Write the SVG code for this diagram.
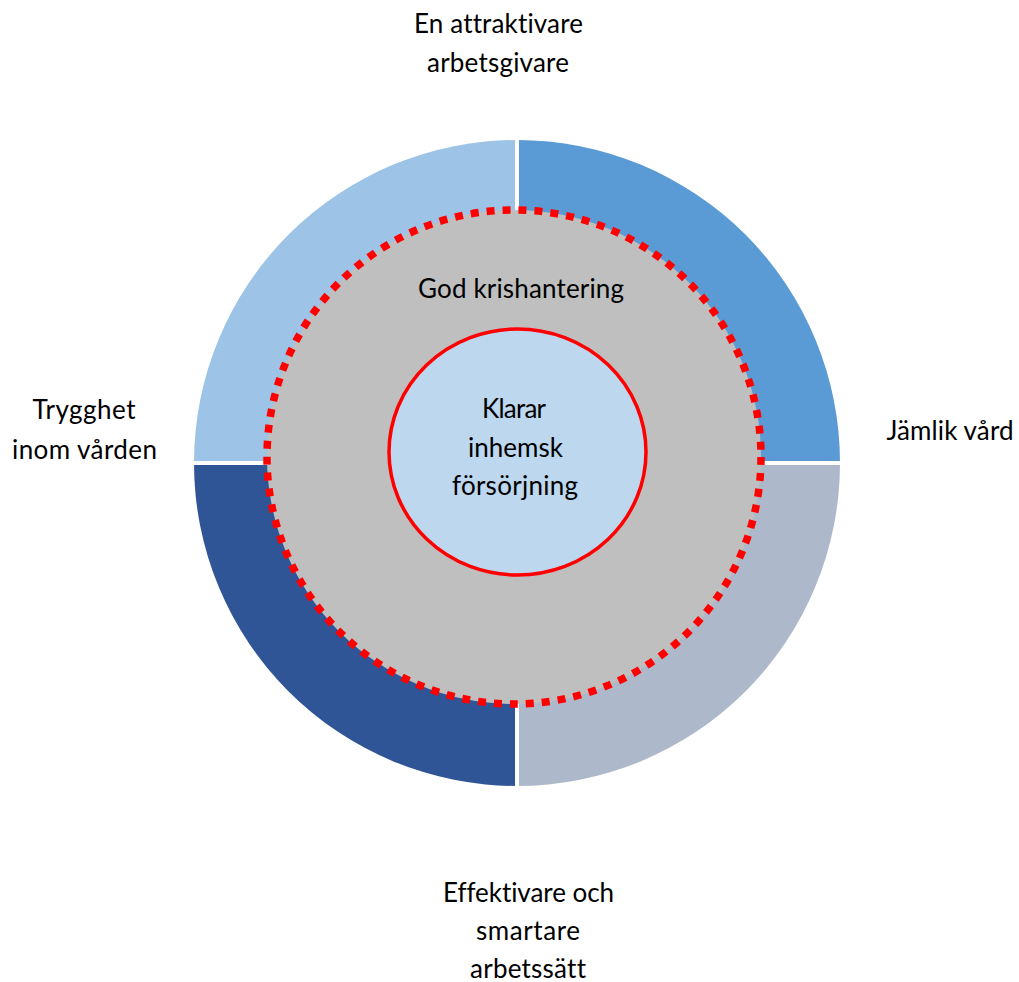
<svg xmlns="http://www.w3.org/2000/svg" width="1019" height="982" viewBox="0 0 1019 982">
  <style>
    .lbl { font-family: Lato, "Open Sans", "Liberation Sans", sans-serif; font-size: 26px; fill: #000; text-anchor: middle; font-variant-ligatures: none; }
    .sep { stroke: #FFFFFF; stroke-width: 4; }
  </style>
  <rect width="1019" height="982" fill="#FFFFFF"/>
  <g id="ring">
    <g id="q-top-right"><path d="M517,463 L517,140 A323,323 0 0 1 840,463 Z" fill="#5B9BD5"/></g>
    <g id="q-bottom-right"><path d="M517,463 L840,463 A323,323 0 0 1 517,786 Z" fill="#ADB9CA"/></g>
    <g id="q-bottom-left"><path d="M517,463 L517,786 A323,323 0 0 1 194,463 Z" fill="#2F5597"/></g>
    <g id="q-top-left"><path d="M517,463 L194,463 A323,323 0 0 1 517,140 Z" fill="#9DC3E6"/></g>
    <line class="sep" x1="517" y1="130" x2="517" y2="796"/>
    <line class="sep" x1="184" y1="463" x2="850" y2="463"/>
  </g>
  <g id="krishantering">
    <circle cx="514" cy="457" r="247" fill="#BFBFBF" stroke="#FF0000" stroke-width="7.5" stroke-dasharray="8 8"/>
    <text class="lbl" x="521" y="298" textLength="206">God krishantering</text>
  </g>
  <g id="inhemsk">
    <ellipse cx="517.5" cy="452" rx="128.5" ry="123" fill="#BDD7EE" stroke="#FF0000" stroke-width="3.5"/>
    <text class="lbl" x="514" y="418" textLength="64">Klarar</text>
    <text class="lbl" x="515.5" y="457" textLength="95">inhemsk</text>
    <text class="lbl" x="515" y="495" textLength="126">försörjning</text>
  </g>
  <g id="label-top">
    <text class="lbl" x="498.5" y="33" textLength="169">En attraktivare</text>
    <text class="lbl" x="498" y="72" textLength="142">arbetsgivare</text>
  </g>
  <g id="label-left">
    <text class="lbl" x="84" y="419" textLength="103">Trygghet</text>
    <text class="lbl" x="84.5" y="459" textLength="145">inom vården</text>
  </g>
  <g id="label-right">
    <text class="lbl" x="950" y="440" textLength="127">Jämlik vård</text>
  </g>
  <g id="label-bottom">
    <text class="lbl" x="528.5" y="902" textLength="171">Effektivare och</text>
    <text class="lbl" x="528" y="940" textLength="104">smartare</text>
    <text class="lbl" x="528" y="978" textLength="116">arbetssätt</text>
  </g>
</svg>
